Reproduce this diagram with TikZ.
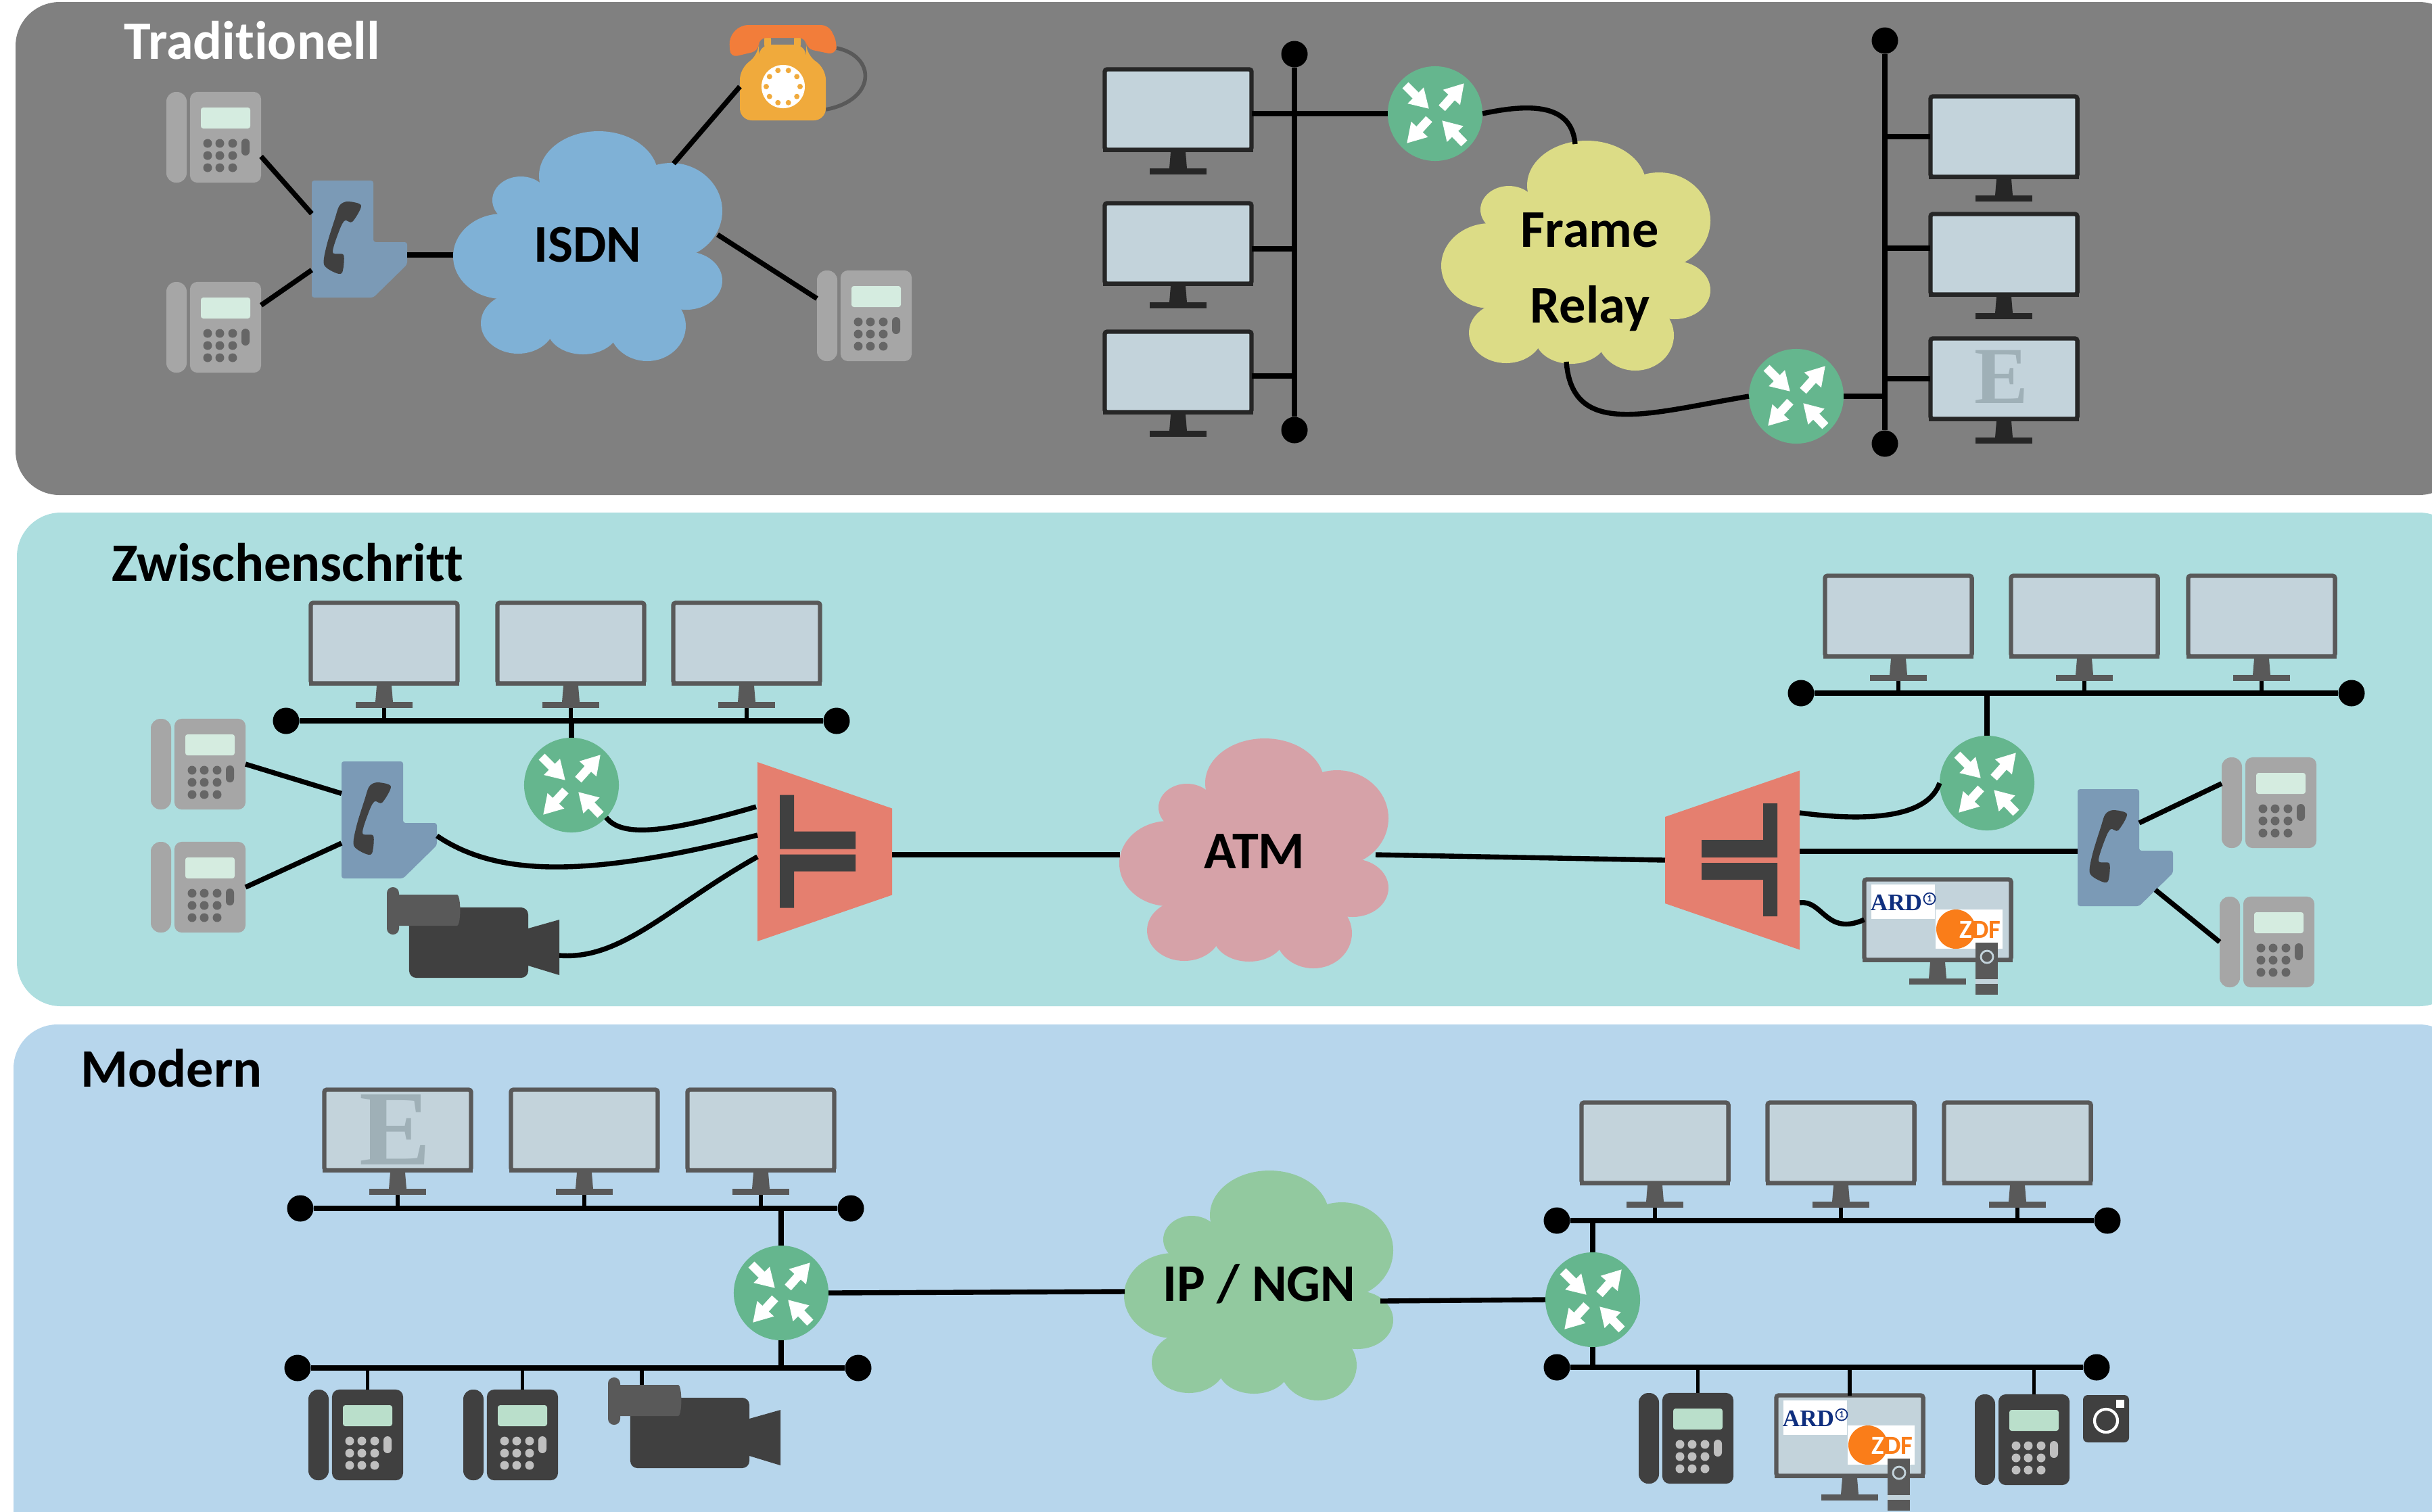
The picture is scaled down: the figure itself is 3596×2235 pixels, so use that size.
\documentclass[tikz,border=0pt]{standalone}
\usepackage{fontspec}
\setmainfont[Ligatures=NoCommon]{Carlito}
\newfontfamily\ardfont{Liberation Serif}
\usetikzlibrary{arrows.meta}

\definecolor{panelgray}{HTML}{808080}
\definecolor{panelteal}{HTML}{ADDEDF}
\definecolor{panelblue}{HTML}{B7D6EC}
\definecolor{routergreen}{HTML}{65B68E}
\definecolor{pbxblue}{HTML}{7B9AB6}
\definecolor{muxred}{HTML}{E57F6F}
\definecolor{isdncloud}{HTML}{7FB1D6}
\definecolor{framecloud}{HTML}{DCDC86}
\definecolor{atmcloud}{HTML}{D6A2A8}
\definecolor{ipcloud}{HTML}{92C99F}
\definecolor{frameblack}{HTML}{262626}
\definecolor{framegray}{HTML}{595959}
\definecolor{darkgray}{HTML}{404040}
\definecolor{screenblue}{HTML}{C3D3DB}
\definecolor{logogray}{HTML}{9FB0B7}
\definecolor{lightbody}{HTML}{A6A6A6}
\definecolor{lightscreen}{HTML}{D5ECE0}
\definecolor{lightkeys}{HTML}{666666}
\definecolor{darkbody}{HTML}{404040}
\definecolor{darkscreen}{HTML}{BADFCB}
\definecolor{darkkeys}{HTML}{BFBFBF}
\definecolor{dialorange}{HTML}{F0AA3C}
\definecolor{hookorange}{HTML}{F27D3A}
\definecolor{ardblue}{HTML}{0F2F7F}
\definecolor{zdforange}{HTML}{FA7D19}

\tikzset{
	panel/.style={rounded corners=18.5pt},
	title/.style={anchor=west,inner sep=0pt,font=\fontsize{22.8}{26}\selectfont\bfseries},
	cloudtext/.style={inner sep=0pt,align=center,font=\fontsize{22.3}{32}\selectfont\bfseries},
	busend/.style={circle,fill=black,inner sep=0pt,minimum size=.39cm},
	link/.style={draw=black,line width=2.1pt},
	stub/.style={draw=black,line width=1.5pt},
	ghost/.style={inner sep=0pt,outer sep=0pt},
	elogo/.style={inner sep=0pt,text=logogray},
	routerarrow/.style={white,line width=3.6pt,-{Triangle[length=8pt,width=9pt]}},
	pics/monitor/.style={code={
		\node [draw=#1,fill=screenblue,line width=1.8pt,rounded corners=1pt,minimum width=2.17cm,minimum height=1.19cm,ghost] (box) at (0,0) {};
		\fill [#1] (-111,57) rectangle (111,63);
		\fill [#1] (-11,63) -- (11,63) -- (13,87) -- (-13,87) -- cycle;
		\fill [#1] (-42,87) rectangle (42,96);
		\coordinate (foot) at (0,96);
	}},
	pics/router/.style={code={
		\node [circle,fill=routergreen,minimum size=1.4cm,ghost] (box) at (0,0) {};
		\foreach \a/\b in {{-44,-42}/{-9,-7},{10,-8}/{43,-45},{-9,8}/{-42,44},{43,44}/{10,10}}
			\draw [routerarrow] (\a) -- (\b);
	}},
	pics/phone/.style={code={
		\node [minimum width=1.4cm,minimum height=1.34cm,ghost] (box) at (0,0) {};
		\fill [#1body,rounded corners=4pt] (-70,-67) rectangle (-40,67);
		\node [fill=#1body,rounded corners=3pt,minimum width=1.05cm,minimum height=1.34cm,ghost] (body) at (17.5,0) {};
		\fill [#1screen,rounded corners=1pt] (-19,-44) rectangle (54,-13);
		\foreach \x in {-9,9,28}
			\foreach \y in {9,27,45}
				\fill [#1keys] (\x,\y) circle (6.5);
		\fill [#1keys,rounded corners=1.7pt] (41,2) rectangle (53,27);
	}},
	pics/pbx/.style={code={
		\node [minimum width=1.41cm,minimum height=1.73cm,ghost] (box) at (70.5,86.5) {};
		\fill [pbxblue,rounded corners=1pt] (0,0) -- (91,0) -- (91,91) -- (141,91) -- (141,124) -- (91,173) -- (0,173) -- cycle;
		\fill [darkgray] plot [smooth cycle,tension=.5] coordinates {(53,31) (73,37) (60,61) (49,59) (41,73) (31,106) (47,110) (45,136) (34,136) (18,124) (22,96) (34,57) (41,37)};
		\coordinate (exit) at (141,110);
		\coordinate (entry) at (0,92);
		\coordinate (notch) at (91,50);
		\coordinate (slant) at (115,149);
	}},
	pics/mux/.style={code={
		\node [minimum width=1.99cm,minimum height=2.65cm,ghost] (box) at (0,0) {};
		\fill [muxred] (-99.5,-132.5) -- (99.5,-64) -- (99.5,64) -- (-99.5,132.5) -- cycle;
		\fill [darkgray] (-66.5,-84) -- (-45.5,-84) -- (-45.5,-30) -- (45.5,-30) -- (45.5,-4) -- (-66.5,-4) -- cycle;
		\fill [darkgray] (-66.5,83) -- (-45.5,83) -- (-45.5,29) -- (45.5,29) -- (45.5,4) -- (-66.5,4) -- cycle;
	}},
	pics/cloud/.style={code={
		\node [minimum width=3.98cm,minimum height=3.4cm,ghost] (box) at (0,0) {};
		\foreach \x/\y/\a/\b in {16/-104/88/66,123/-52/76/71,-99/-68/42/35,-126/15/73/63,146/51/53/43,-103/114/55/45,-7/122/53/38,88/118/57/52,4/10/150/115}
			\fill [#1] (\x,\y) ellipse [x radius=\a,y radius=\b];
	}},
	pics/camera/.style={code={
		\node [fill=darkgray,rounded corners=3pt,minimum width=1.76cm,minimum height=1.04cm,ghost] (box) at (88,52) {};
		\fill [darkgray] (176,31) -- (222,18) -- (222,100) -- (176,86) -- cycle;
		\fill [framegray,rounded corners=3pt] (-27,-19) -- (60,-19) .. controls (77,-19) and (77,27) .. (60,27) -- (-27,27) -- cycle;
		\fill [framegray,rounded corners=2.5pt] (-33,-30) rectangle (-15,40);
		\coordinate (exit) at (222,71);
		\coordinate (top) at (17,-19);
	}},
	pics/tvlogos/.style={code={
		\fill [white] (-98,-52) rectangle (-4,-1);
		\node [inner sep=0pt,text=ardblue,font=\ardfont\fontsize{10}{12}\selectfont\bfseries] (ard) at (-61,-25) {ARD};
		\node [circle,draw=ardblue,line width=.5pt,text=ardblue,minimum size=.17cm,inner sep=0pt,font=\fontsize{4}{4}\selectfont\bfseries] (erste) at (-12,-31) {1};
		\fill [white] (-3,-15) rectangle (96,43);
		\fill [zdforange] (27,14) circle (29);
		\node [inner sep=0pt,text=zdforange,font=\fontsize{11}{13}\selectfont\bfseries] (zdf) at (63,15) {\textcolor{white}{Z}DF};
		\fill [framegray] (56,34) rectangle (89,111);
		\draw [screenblue,line width=.8pt] (73,55) circle (9);
		\fill [screenblue] (56,88) rectangle (89,95);
	}},
	pics/dialphone/.style={code={
		\node [minimum width=1.28cm,minimum height=.96cm,ghost] (box) at (0,0) {};
		\draw [framegray,line width=1.6pt] (79,-57) .. controls (138,-45) and (138,20) .. (63,34);
		\fill [dialorange,rounded corners=5pt] (-36,-62) -- (34,-62) -- (34,-46) -- (63,-28) -- (63,50) -- (-64,50) -- (-64,-28) -- (-36,-46) -- cycle;
		\fill [dialorange,rounded corners=2pt] (-28,-77) rectangle (-18,-55);
		\fill [dialorange,rounded corners=2pt] (16,-77) rectangle (26,-55);
		\fill [hookorange,rounded corners=3pt] (-78,-43) -- (-80,-73) -- (-63,-91) -- (67,-91) -- (80,-65) -- (77,-47) -- (34,-56) -- (34,-72) -- (-36,-72) -- (-36,-53) -- cycle;
		\node [circle,fill=white,minimum size=.64cm,ghost] (dial) at (0,0) {};
		\foreach \a in {0,36,...,324}
			\fill [dialorange] (\a:25) circle (4);
	}},
}

\begin{document}
\begin{tikzpicture}[x=.01cm,y=-.01cm]
	\useasboundingbox (0,0) rectangle (3596,2235);

	\fill [panelgray,panel] (23,3) rectangle (3642,732);
	\fill [panelteal,panel] (25,758) rectangle (3642,1488);
	\fill [panelblue,panel] (20,1515) rectangle (3642,2320);

	\node [title,text=white] (T1) at (183,60) {Traditionell};
	\node [title] (T2) at (165,832) {Zwischenschritt};
	\node [title] (T3) at (119,1580) {Modern};

	% Traditionell
	\pic (P1) at (316,203) {phone=light};
	\pic (P2) at (316,484) {phone=light};
	\pic (P3) at (1278,467) {phone=light};
	\pic (V1) at (461,267) {pbx};
	\pic (O1) at (1158,128) {dialphone};
	\pic (C1) at (869,364) {cloud=isdncloud};
	\node [cloudtext] (L1) at (869,362) {ISDN};
	\coordinate (C1w) at (670,377);
	\coordinate (C1n) at (996,242);
	\coordinate (C1e) at (1061,347);

	\pic (M1) at (1742,162) {monitor=frameblack};
	\pic (M2) at (1742,360) {monitor=frameblack};
	\pic (M3) at (1742,550) {monitor=frameblack};
	\pic (M4) at (2963,202) {monitor=frameblack};
	\pic (M5) at (2963,376) {monitor=frameblack};
	\pic (M6) at (2963,560) {monitor=frameblack};
	\node [elogo,font=\ardfont\fontsize{34}{34}\selectfont\bfseries] (E1) at (2959,557) {E};
	\node [busend] (B1t) at (1914,80) {};
	\node [busend] (B1b) at (1914,636) {};
	\node [busend] (B2t) at (2787,60) {};
	\node [busend] (B2b) at (2787,656) {};
	\pic (R1) at (2122,168) {router};
	\pic (R2) at (2656,586) {router};
	\pic (C2) at (2330,378) {cloud=framecloud};
	\node [cloudtext] (L2) at (2351,402) {Frame\\Relay};
	\coordinate (C2n) at (2329,213);
	\coordinate (C2s) at (2316,535);

	\begin{scope}[every edge/.style={link}]
		\path (P1box.-22) edge (V1box.152);
		\path (P2box.25) edge (V1box.213);
		\path (V1exit) edge (C1w);
		\path (C1n) edge (O1box.west);
		\path (C1e) edge (P3box.160);
		\path (B1t) edge (B1b);
		\path (B2t) edge (B2b);
		\path (M1box.east |- R1box.west) edge (R1box.west);
		\path ([yshift=-.08cm]M2box.east) edge ([yshift=-.08cm]M2box.east -| B1t);
		\path ([yshift=-.06cm]M3box.east) edge ([yshift=-.06cm]M3box.east -| B1t);
		\path (M4box.west) edge (M4box.west -| B2t);
		\path ([yshift=.09cm]M5box.west) edge ([yshift=.09cm]M5box.west -| B2t);
		\path (M6box.west) edge (M6box.west -| B2t);
		\path (R2box.east) edge (R2box.east -| B2t);
	\end{scope}
	\draw [link] (R1box.east) .. controls +(70,-15) and +(-5,-60) .. (C2n);
	\draw [link] (C2s) .. controls (2325,650) and (2440,610) .. (R2box.west);

	% Zwischenschritt
	\pic (M7) at (568,951) {monitor=framegray};
	\pic (M8) at (844,951) {monitor=framegray};
	\pic (M9) at (1104,951) {monitor=framegray};
	\node [busend] (B3l) at (423,1066) {};
	\node [busend] (B3r) at (1237,1066) {};
	\pic (R3) at (845,1161) {router};
	\pic (P4) at (293,1130) {phone=light};
	\pic (P5) at (293,1312) {phone=light};
	\pic (V2) at (505,1126) {pbx};
	\pic (K1) at (605,1342) {camera};
	\pic (X1) at (1219.5,1259.5) {mux};
	\pic (C3) at (1854,1262) {cloud=atmcloud};
	\node [cloudtext] (L3) at (1855,1259) {ATM};
	\coordinate (C3w) at (1656,1264);
	\coordinate (C3e) at (2034,1264);
	\pic [xscale=-1] (X2) at (2561.5,1272) {mux};
	\pic (M10) at (2807,911) {monitor=framegray};
	\pic (M11) at (3082,911) {monitor=framegray};
	\pic (M12) at (3344,911) {monitor=framegray};
	\node [busend] (B4l) at (2663,1025) {};
	\node [busend] (B4r) at (3477,1025) {};
	\pic (R4) at (2938,1158) {router};
	\pic (V3) at (3072,1167) {pbx};
	\pic (P6) at (3355,1187) {phone=light};
	\pic (P7) at (3352,1393) {phone=light};
	\pic (M13) at (2865,1360) {monitor=framegray};
	\pic (Z1) at (2865,1360) {tvlogos};

	\begin{scope}[every edge/.style={link}]
		\path (B3l) edge (B3r);
		\path (B4l) edge (B4r);
		\path (R3box.north) edge (R3box.north |- B3l);
		\path (R4box.north) edge (R4box.north |- B4l);
		\path (P4box.east) edge (V2box.151);
		\path (P5box.east) edge (V2box.206);
		\path (X1box.east |- C3w) edge (C3w);
		\path (C3e) edge (X2box.west);
		\path (X2box.east |- V3entry) edge (V3entry);
		\path (V3notch) edge (P6box.158);
		\path (V3slant) edge (P7box.west);
	\end{scope}
	\begin{scope}[every edge/.style={stub}]
		\path (M7foot) edge (M7foot |- B3l);
		\path (M8foot) edge (M8foot |- B3l);
		\path (M9foot) edge (M9foot |- B3l);
		\path (M10foot) edge (M10foot |- B4l);
		\path (M11foot) edge (M11foot |- B4l);
		\path (M12foot) edge (M12foot |- B4l);
	\end{scope}
	\draw [link] (R3box.-43) .. controls (920,1240) and (990,1230) .. (1118,1193);
	\draw [link] (V2exit) .. controls (740,1300) and (880,1295) .. (1120,1235);
	\draw [link] (K1exit) .. controls (920,1420) and (990,1340) .. (1120,1267);
	\draw [link] (2661,1202) .. controls (2760,1215) and (2850,1210) .. (R4box.west);
	\draw [link] (2661,1335) .. controls (2695,1330) and (2700,1385) .. (M13box.west);

	% Modern
	\pic (M14) at (588,1671) {monitor=framegray};
	\pic (M15) at (864,1671) {monitor=framegray};
	\pic (M16) at (1125,1671) {monitor=framegray};
	\node [elogo,font=\ardfont\fontsize{45}{45}\selectfont\bfseries] (E2) at (584,1671) {E};
	\node [busend] (B5l) at (444,1787) {};
	\node [busend] (B5r) at (1258,1787) {};
	\node [busend] (B6l) at (440,2023) {};
	\node [busend] (B6r) at (1269,2023) {};
	\pic (R5) at (1155,1912) {router};
	\pic (P8) at (526,2122) {phone=dark};
	\pic (P9) at (755,2122) {phone=dark};
	\pic (K2) at (932,2067) {camera};
	\pic (C4) at (1861,1901) {cloud=ipcloud};
	\node [cloudtext] (L4) at (1862,1899) {IP / NGN};
	\coordinate (C4w) at (1663,1910);
	\coordinate (C4e) at (2041,1924);
	\pic (R6) at (2355,1922) {router};
	\pic (M17) at (2447,1690) {monitor=framegray};
	\pic (M18) at (2722,1690) {monitor=framegray};
	\pic (M19) at (2983,1690) {monitor=framegray};
	\node [busend] (B7l) at (2302,1805) {};
	\node [busend] (B7r) at (3116,1805) {};
	\node [busend] (B8l) at (2302,2022) {};
	\node [busend] (B8r) at (3100,2022) {};
	\pic (P10) at (2493,2127) {phone=dark};
	\pic (M20) at (2735,2123) {monitor=framegray};
	\pic (Z2) at (2735,2123) {tvlogos};
	\pic (P11) at (2990,2129) {phone=dark};
	\node [fill=darkgray,rounded corners=2pt,minimum width=.68cm,minimum height=.7cm,ghost] (S1) at (3114,2098) {};
	\draw [white,line width=1.2pt] (S1) ++(0,3) circle (17);
	\fill [white] (3129,2070) rectangle (3141,2082);

	\begin{scope}[every edge/.style={link}]
		\path (B5l) edge (B5r);
		\path (B6l) edge (B6r);
		\path (B7l) edge (B7r);
		\path (B8l) edge (B8r);
		\path (R5box.north) edge (R5box.north |- B5l);
		\path (R5box.south) edge (R5box.south |- B6l);
		\path (R6box.north) edge (R6box.north |- B7l);
		\path (R6box.south) edge (R6box.south |- B8l);
		\path (R5box.east) edge (C4w);
		\path (C4e) edge (R6box.west);
	\end{scope}
	\begin{scope}[every edge/.style={stub}]
		\path (M14foot) edge (M14foot |- B5l);
		\path (M15foot) edge (M15foot |- B5l);
		\path (M16foot) edge (M16foot |- B5l);
		\path (M17foot) edge (M17foot |- B7l);
		\path (M18foot) edge (M18foot |- B7l);
		\path (M19foot) edge (M19foot |- B7l);
		\path (P8body.north) edge (P8body.north |- B6l);
		\path (P9body.north) edge (P9body.north |- B6l);
		\path (K2top) edge (K2top |- B6l);
		\path (P10body.north) edge (P10body.north |- B8l);
		\path (M20box.north) edge (M20box.north |- B8l);
		\path (P11body.north) edge (P11body.north |- B8l);
	\end{scope}
\end{tikzpicture}
\end{document}
